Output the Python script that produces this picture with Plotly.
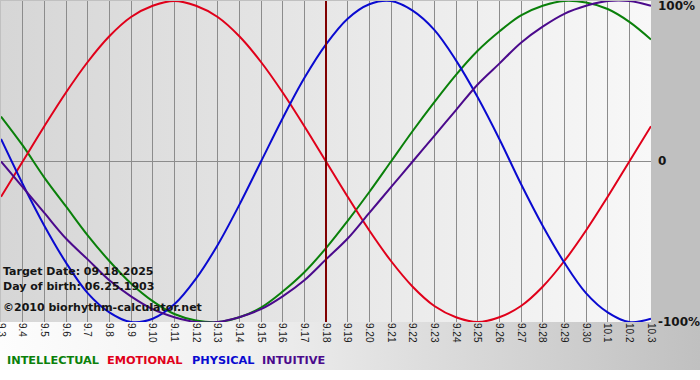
import base64
import plotly.graph_objects as go

# ---- data ----
dates = ["9.3", "9.4", "9.5", "9.6", "9.7", "9.8", "9.9", "9.10", "9.11", "9.12",
         "9.13", "9.14", "9.15", "9.16", "9.17", "9.18", "9.19", "9.20", "9.21", "9.22",
         "9.23", "9.24", "9.25", "9.26", "9.27", "9.28", "9.29", "9.30", "10.1", "10.2", "10.3"]

intellectual = [0.28, 0.10, -0.10, -0.28, -0.46, -0.62, -0.76, -0.87, -0.95, -0.99,
                -1.00, -0.97, -0.91, -0.81, -0.69, -0.54, -0.37, -0.19, 0.00, 0.19,
                0.37, 0.54, 0.69, 0.81, 0.91, 0.97, 1.00, 0.99, 0.95, 0.87, 0.76]
emotional = [-0.22, 0.00, 0.22, 0.43, 0.62, 0.78, 0.90, 0.97, 1.00, 0.97,
             0.90, 0.78, 0.62, 0.43, 0.22, 0.00, -0.22, -0.43, -0.62, -0.78,
             -0.90, -0.97, -1.00, -0.97, -0.90, -0.78, -0.62, -0.43, -0.22, 0.00, 0.22]
physical = [0.14, -0.14, -0.40, -0.63, -0.82, -0.94, -1.00, -0.98, -0.89, -0.73,
            -0.52, -0.27, 0.00, 0.27, 0.52, 0.73, 0.89, 0.98, 1.00, 0.94,
            0.82, 0.63, 0.40, 0.14, -0.14, -0.40, -0.63, -0.82, -0.94, -1.00, -0.98]
intuitive = [0.00, -0.16, -0.32, -0.48, -0.61, -0.74, -0.84, -0.92, -0.97, -1.00,
             -1.00, -0.97, -0.92, -0.84, -0.74, -0.61, -0.48, -0.32, -0.16, 0.00,
             0.16, 0.32, 0.48, 0.61, 0.74, 0.84, 0.92, 0.97, 1.00, 1.00, 0.97]

series_names = ["INTELLECTUAL", "EMOTIONAL", "PHYSICAL", "INTUITIVE"]
series_colors = ["#0a800a", "#e0001a", "#0a0ad0", "#4b0a8c"]
series_values = [intellectual, emotional, physical, intuitive]

target_date = "9.18"
y_tick_vals = [1, 0, -1]
y_tick_text = ["100%", "0", "-100%"]
info_lines = ["Target Date: 09.18.2025", "Day of birth: 06.25.1903", "©2010 biorhythm-calculator.net"]

# ---- layout geometry ----
W, H = 700, 380
ML, MR, MT, MB = 1, 49, 1, 58
PW, PH = W - ML - MR, H - MT - MB


def px_x(px):
    return (px - ML) / PW


def px_y(py):
    return (MT + PH - py) / PH


svg = f'''<svg xmlns="http://www.w3.org/2000/svg" width="{W}" height="{H}" viewBox="0 0 {W} {H}" preserveAspectRatio="none">
<defs>
<linearGradient id="pg" x1="0" y1="0" x2="1" y2="0"><stop offset="0" stop-color="#d6d6d6"/><stop offset="1" stop-color="#f8f8f8"/></linearGradient>
<linearGradient id="bg" x1="0" y1="0" x2="1" y2="0"><stop offset="0" stop-color="#fdfdfd"/><stop offset="0.35" stop-color="#f0f0f0"/><stop offset="1" stop-color="#c0c0c0"/></linearGradient>
</defs>
<rect x="0" y="0" width="{W}" height="{H}" fill="#c0c0c0"/>
<rect x="0" y="{MT + PH}" width="{W}" height="48" fill="url(#bg)"/>
<rect x="0" y="370" width="{W}" height="10" fill="#ffffff"/>
<rect x="{ML}" y="{MT}" width="{PW}" height="{PH}" fill="url(#pg)"/>
</svg>'''
svg_uri = "data:image/svg+xml;base64," + base64.b64encode(svg.encode()).decode()

fig = go.Figure()
for name, color, vals in zip(series_names, series_colors, series_values):
    fig.add_trace(go.Scatter(
        x=dates, y=vals, mode="lines", name=name,
        line=dict(color=color, width=2, shape="spline", smoothing=1.0),
        showlegend=False, hoverinfo="skip",
    ))

target_idx = dates.index(target_date)
fig.add_shape(type="line", xref="x", yref="paper", x0=target_idx, x1=target_idx,
              y0=0, y1=1, line=dict(color="#800000", width=2), layer="above")

annotations = []
for txt, py in zip(info_lines, [271, 286, 307]):
    annotations.append(dict(
        text=f"<b>{txt}</b>", xref="paper", yref="paper", x=px_x(1), y=px_y(py),
        xanchor="left", yanchor="middle", showarrow=False,
        font=dict(family="DejaVu Sans", size=11, color="#151515")))

for txt, py in zip(y_tick_text, [6, 161, 322]):
    annotations.append(dict(
        text=f"<b>{txt}</b>", xref="paper", yref="paper", x=px_x(656), y=px_y(py),
        xanchor="left", yanchor="middle", showarrow=False,
        font=dict(family="DejaVu Sans", size=12, color="#151515")))

for name, color, lx in zip(series_names, series_colors, [5, 105, 190, 260]):
    annotations.append(dict(
        text=f"<b>{name}</b>", xref="paper", yref="paper", x=px_x(lx), y=px_y(361),
        xanchor="left", yanchor="middle", showarrow=False,
        font=dict(family="DejaVu Sans", size=11.3, color=color)))

fig.update_layout(
    width=W, height=H,
    margin=dict(l=ML, r=MR, t=MT, b=MB, pad=0, autoexpand=False),
    paper_bgcolor="#c0c0c0",
    plot_bgcolor="rgba(0,0,0,0)",
    images=[dict(source=svg_uri, xref="paper", yref="paper",
                 x=-ML / PW, y=1 + MT / PH, sizex=W / PW, sizey=H / PH,
                 xanchor="left", yanchor="top", sizing="stretch", layer="below")],
    annotations=annotations,
    xaxis=dict(type="category", range=[0, len(dates) - 1], automargin=False,
               tickmode="array", tickvals=dates, ticktext=dates,
               tickangle=90, ticks="", showgrid=True, gridcolor="#8c8c8c", gridwidth=1,
               zeroline=False, showline=False,
               tickfont=dict(family="Liberation Sans", size=10, color="#1a1a1a")),
    yaxis=dict(range=[-1, 1], tickmode="array", tickvals=y_tick_vals, automargin=False,
               showticklabels=False, ticks="", showgrid=True, gridcolor="#8c8c8c",
               gridwidth=1, zeroline=False, showline=False),
)

fig.write_html("out.html", config={"displayModeBar": False, "staticPlot": True},
               post_script="document.body.style.margin='0';document.body.style.padding='0';")
